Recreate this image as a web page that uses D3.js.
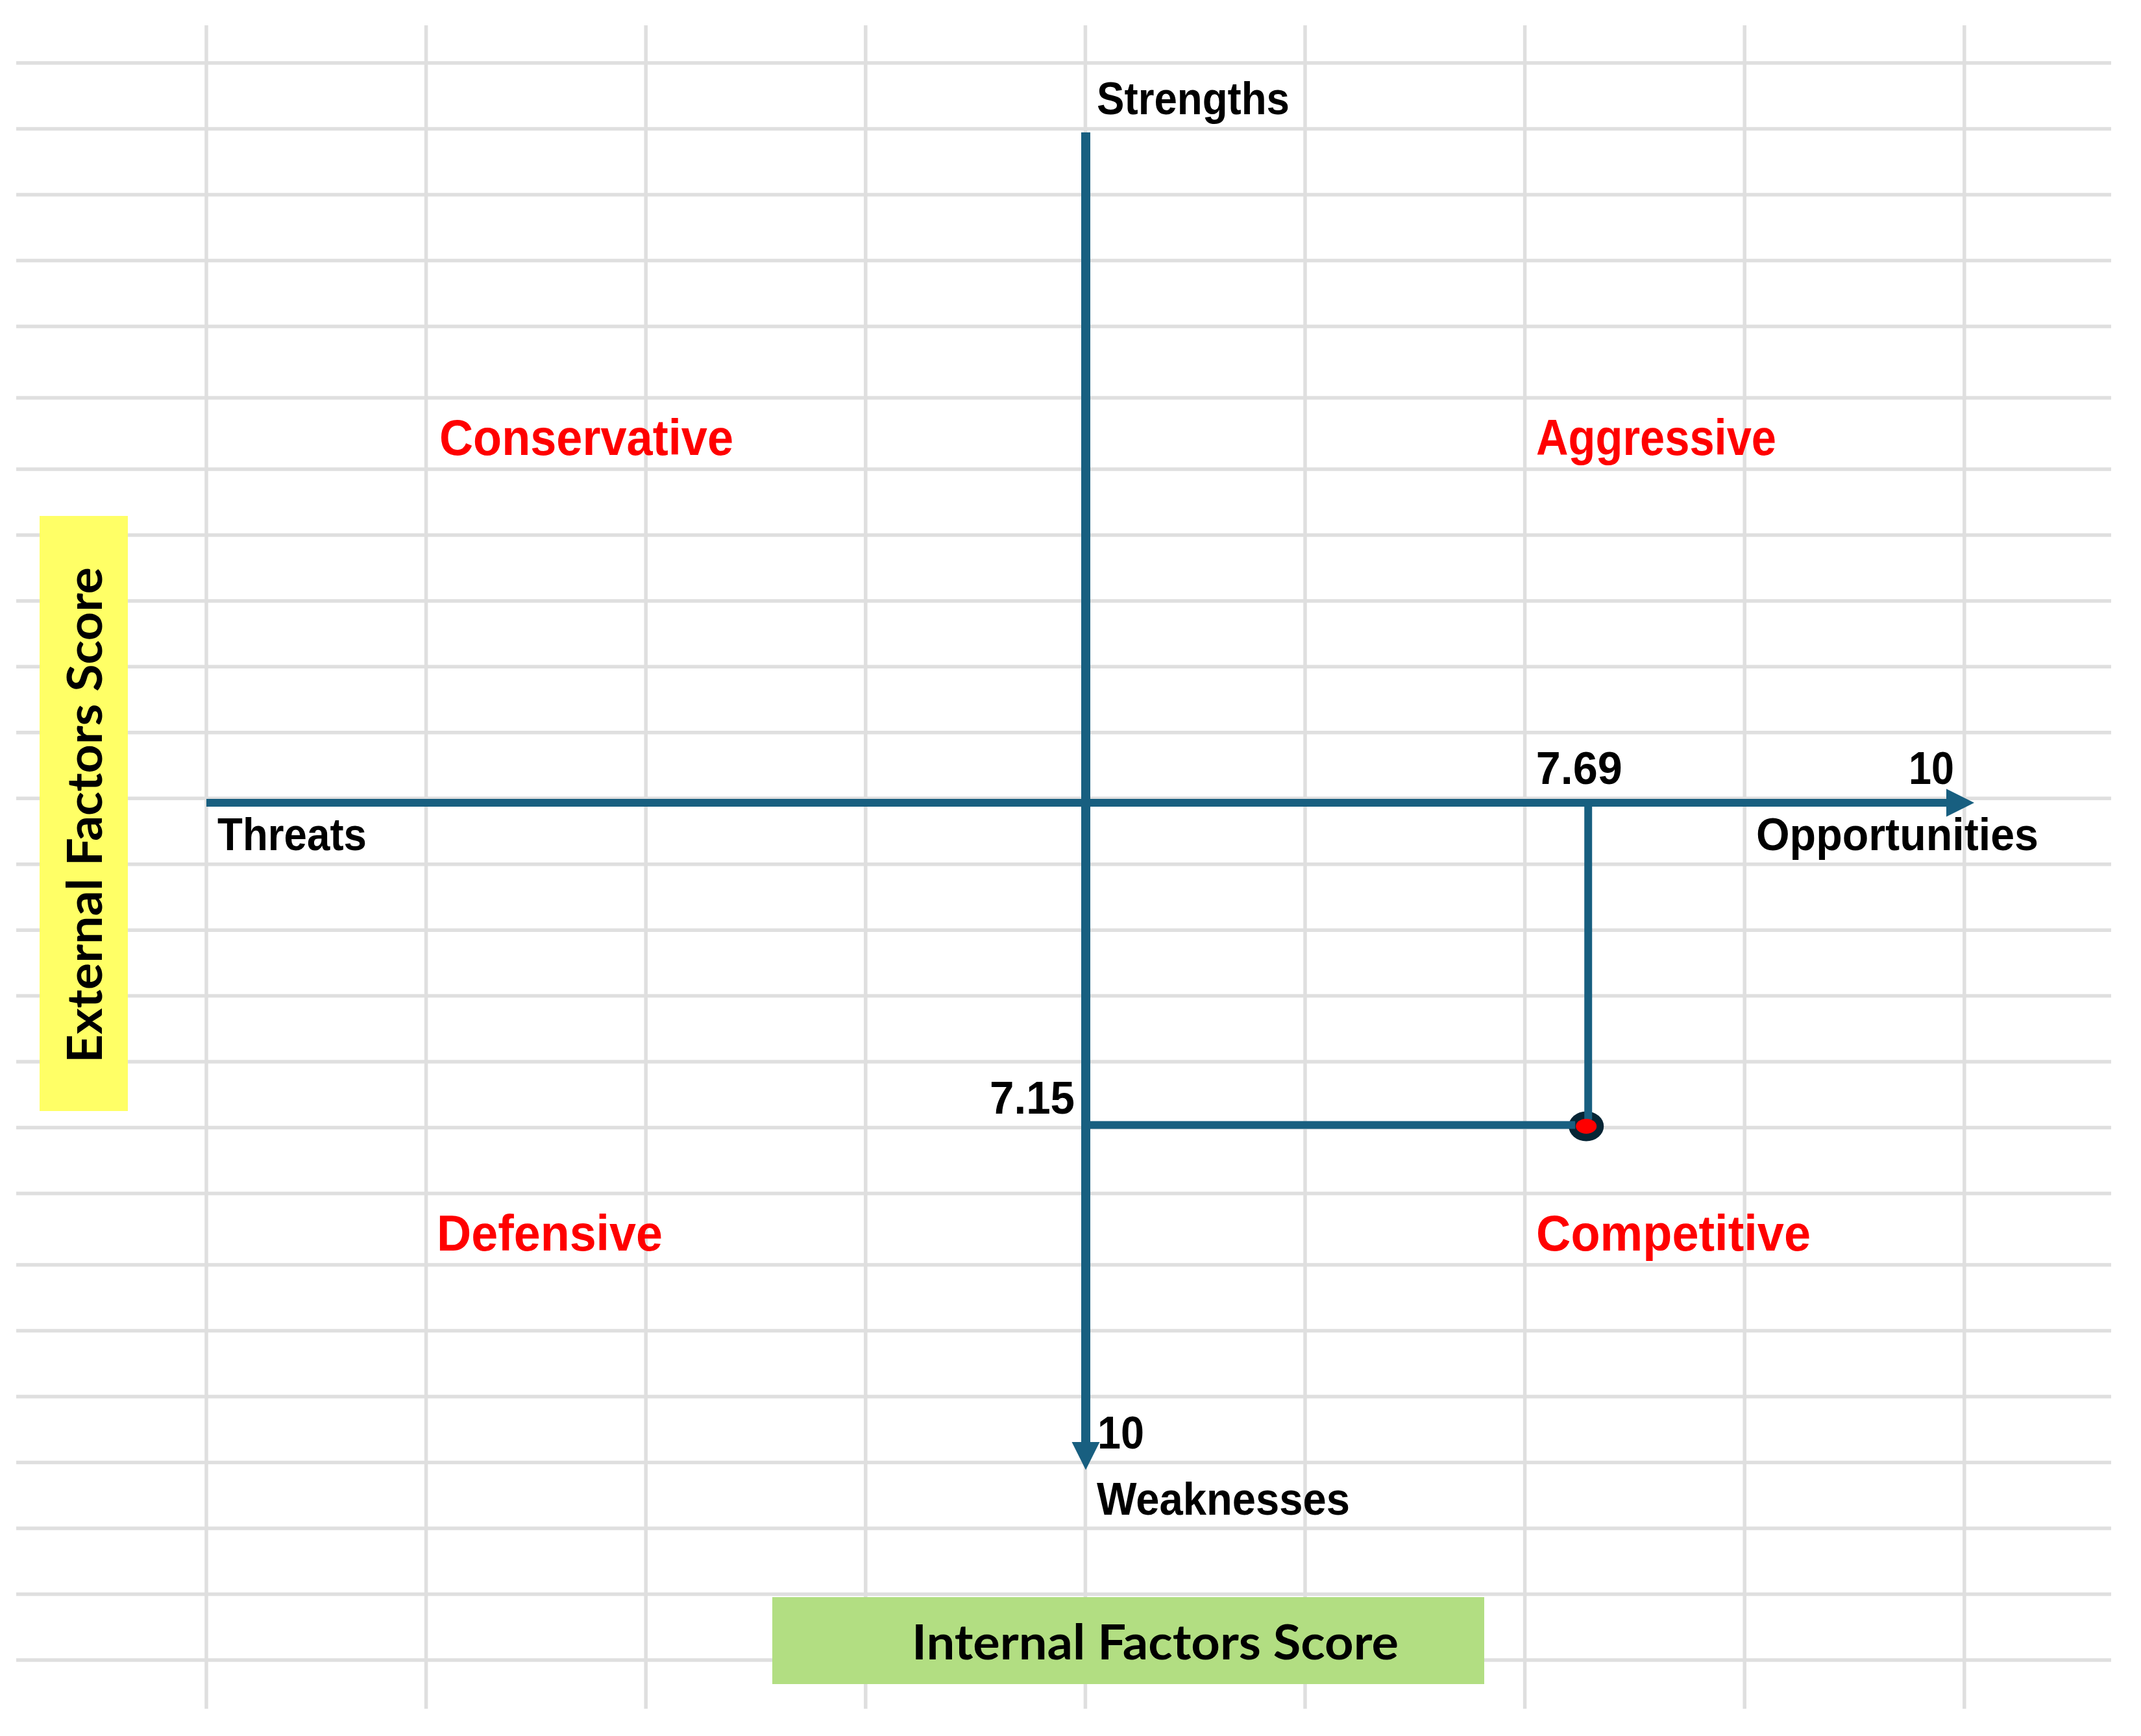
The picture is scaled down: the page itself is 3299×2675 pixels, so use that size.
<!DOCTYPE html>
<html>
<head>
<meta charset="utf-8">
<script src="https://cdn.jsdelivr.net/npm/d3@7"></script>
<style>
  html, body { margin: 0; padding: 0; background: #ffffff; }
  svg { display: block; }
</style>
</head>
<body>
<svg id="chart" width="3299" height="2675"></svg>
<script>
// ---------------- data ----------------
const opportunitiesScore = [7.69];          // horizontal position of the strategic point
const weaknessesScore = [7.15];             // vertical position of the strategic point
const axisMaximum = [10];                   // value at the arrow tips
const tickLabels = ["7.69", "10", "7.15", "10"];
const poleLabels = ["Strengths", "Weaknesses", "Threats", "Opportunities"];
const quadrantLabels = ["Conservative", "Aggressive", "Defensive", "Competitive"];
const axisTitles = ["External Factors Score", "Internal Factors Score"];

// ---------------- layout ----------------
const W = 3299, H = 2675;
const svg = d3.select("#chart");
const AXIS = "#185f80";
const SANS = "'Liberation Sans', Arial, sans-serif";
const HUMAN = "Lato, 'Open Sans', sans-serif";

// scales (Threats/Strengths = -10 side, Opportunities/Weaknesses = +10 side)
const x = d3.scalePow().exponent(2.17).domain([-10, 0, 10]).range([318, 1673, 3042]);
const y = d3.scalePow().exponent(2.17).domain([-10, 0, 10]).range([204, 1237, 2265]);
const xMax = axisMaximum[0], yMax = axisMaximum[0];

// spreadsheet grid background
const colXs = d3.range(9).map(i => 318 + i * 338.6);
const rowHeights = [].concat(
  d3.range(4).map(() => 101.5), [110, 110],
  d3.range(11).map(() => 101.45), [110],
  d3.range(6).map(() => 101.5));
const rowYs = [97];
rowHeights.forEach(h => rowYs.push(rowYs[rowYs.length - 1] + h));

const grid = svg.append("g").attr("stroke", "#dfdfdf").attr("stroke-width", 5.5);
grid.selectAll("line.h").data(rowYs).join("line").attr("class", "h")
  .attr("x1", 25).attr("x2", 3253).attr("y1", d => d).attr("y2", d => d);
grid.selectAll("line.v").data(colXs).join("line").attr("class", "v")
  .attr("x1", d => d).attr("x2", d => d).attr("y1", 39).attr("y2", 2633);

// axis title boxes
svg.append("rect").attr("x", 61).attr("y", 795).attr("width", 136).attr("height", 917).attr("fill", "#ffff66");
svg.append("rect").attr("x", 1190).attr("y", 2461).attr("width", 1097).attr("height", 134).attr("fill", "#b2de82");

function txt(t, tx, ty, o) {
  const el = svg.append("text")
    .attr("transform", `translate(${tx},${ty})` + (o.rotate ? ` rotate(${o.rotate})` : ""))
    .attr("font-family", o.family || SANS)
    .attr("font-weight", o.weight || 700)
    .attr("font-size", o.size || 70)
    .attr("fill", o.fill || "#000")
    .attr("text-anchor", o.anchor || "start")
    .text(t);
  if (o.len) el.attr("textLength", o.len).attr("lengthAdjust", "spacingAndGlyphs");
  return el;
}

txt(axisTitles[0], 157, 1256, { rotate: -90, anchor: "middle", family: HUMAN, size: 75, len: 764 });
txt(axisTitles[1], 1780, 2557, { anchor: "middle", family: HUMAN, size: 75, len: 750 });

// axes
const x0 = x(0), y0 = y(0);
const head = 43, halfHead = 21.5;
const axes = svg.append("g").attr("stroke", AXIS).attr("fill", "none");
axes.append("line").attr("x1", x(-xMax)).attr("x2", x(xMax) - head + 2)
  .attr("y1", y0).attr("y2", y0).attr("stroke-width", 12);
axes.append("line").attr("x1", x0).attr("x2", x0)
  .attr("y1", y(-yMax)).attr("y2", y(yMax) - head + 2).attr("stroke-width", 14);
svg.append("path").attr("fill", AXIS)
  .attr("d", `M${x(xMax)},${y0} L${x(xMax) - head},${y0 - halfHead} L${x(xMax) - head},${y0 + halfHead} Z`);
svg.append("path").attr("fill", AXIS)
  .attr("d", `M${x0},${y(yMax)} L${x0 - halfHead},${y(yMax) - head} L${x0 + halfHead},${y(yMax) - head} Z`);

// strategic point with guide lines
const px = x(opportunitiesScore[0]), py = y(weaknessesScore[0]);
svg.append("ellipse").attr("cx", px - 3).attr("cy", py + 2).attr("rx", 27).attr("ry", 23).attr("fill", "#062535");
const guides = svg.append("g").attr("stroke", AXIS).attr("stroke-width", 12);
guides.append("line").attr("x1", px).attr("x2", px).attr("y1", y0).attr("y2", py - 8);
guides.append("line").attr("x1", x0).attr("x2", px - 20).attr("y1", py).attr("y2", py);
svg.append("ellipse").attr("cx", px - 3).attr("cy", py + 2).attr("rx", 16).attr("ry", 11.5).attr("fill", "#ff0000");

// pole labels
txt(poleLabels[0], x0 + 17, y(-yMax) - 28, { len: 297 });
txt(poleLabels[1], x0 + 17, y(yMax) + 69, { len: 390 });
txt(poleLabels[2], x(-xMax) + 17, y0 + 73, { len: 230 });
txt(poleLabels[3], x(xMax) + 99, y0 + 73, { anchor: "end", len: 435 });

// tick labels
txt(tickLabels[0], px - 14, y0 - 29, { anchor: "middle", len: 133 });
txt(tickLabels[1], x(xMax) - 31, y0 - 29, { anchor: "end", len: 70 });
txt(tickLabels[2], x0 - 17, py - 17, { anchor: "end", len: 131 });
txt(tickLabels[3], x0 + 18, y(yMax) - 33, { len: 72 });

// quadrant labels
const qPos = [[677, 701], [2367, 701], [673, 1927], [2367, 1927]];
const qLen = [453, 370, 348, 423];
quadrantLabels.forEach((q, i) => {
  txt(q, qPos[i][0], qPos[i][1], { size: 78, fill: "#ff0000", len: qLen[i] });
});
</script>
</body>
</html>
